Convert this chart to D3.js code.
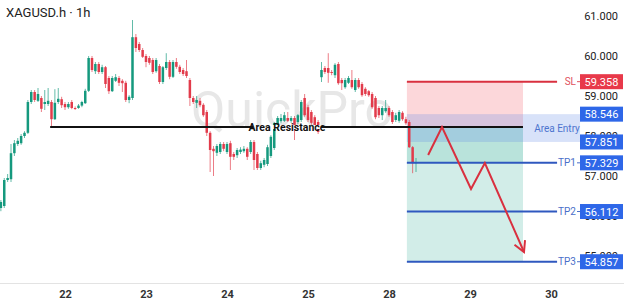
<!DOCTYPE html>
<html>
<head>
<meta charset="utf-8">
<script src="https://cdn.jsdelivr.net/npm/d3@7/dist/d3.min.js"></script>
<style>
  html,body{margin:0;padding:0;background:#fff;}
  svg{display:block;font-family:Roboto,"Noto Sans",Arial,sans-serif;}
</style>
</head>
<body>
<svg id="chart" width="624" height="305"></svg>
<script>
// ---------- DATA ----------
const title = "XAGUSD.h · 1h";
const firstHour = -19; // hours relative to start of day 22
const open  = [56.20,56.25,56.90,56.92,57.57,57.80,57.82,58.00,58.08,58.85,59.10,58.88,58.95,58.80,58.80,58.85,58.42,58.85,58.92,58.80,
               58.72,58.85,58.70,58.70,58.76,58.82,59.13,59.95,59.62,59.80,59.60,59.72,59.45,59.12,59.38,59.45,59.38,59.33,58.90,58.95,
               60.47,60.30,60.15,60.00,59.95,59.90,59.62,59.75,59.35,59.70,59.85,59.48,59.85,59.73,59.65,59.62,59.40,58.95,58.83,58.88,
               58.78,58.60,58.08,57.68,57.58,57.60,57.80,57.60,57.82,57.55,57.52,57.60,57.62,57.68,57.60,57.85,57.55,57.20,57.28,57.30,
               57.50,57.70,58.20,58.37,58.38,58.45,58.38,58.45,58.35,58.40,58.95,58.72,58.60,58.47,58.35,59.47,59.70,59.70,59.60,59.52,
               59.80,59.40,59.22,59.33,59.40,59.15,59.40,59.30,59.18,59.12,59.05,58.95,58.70,58.52,58.62,58.70,58.60,58.40,58.38,58.58,
               58.42,58.35,57.72,57.32];
const high  = [56.40,56.95,57.05,57.80,57.90,57.95,58.05,58.12,58.90,59.15,59.15,59.20,59.00,59.15,59.20,58.90,59.17,59.20,58.98,58.85,
               58.85,58.90,58.74,58.80,58.88,59.18,60.00,60.00,59.85,59.85,59.78,59.75,59.50,59.50,59.55,59.50,59.42,59.38,59.02,60.90,
               60.55,60.35,60.20,60.05,60.00,59.95,59.95,59.80,59.75,60.07,59.90,59.90,59.95,59.78,59.70,59.90,59.45,59.00,59.00,58.95,
               58.82,58.65,58.12,57.75,57.80,57.85,57.85,57.85,57.88,57.60,57.70,57.72,57.75,57.72,57.90,57.90,57.60,57.38,57.45,57.78,
               58.02,58.35,58.50,58.55,58.60,58.60,58.50,58.50,58.55,58.90,59.05,58.78,58.65,58.52,58.40,59.85,59.75,60.07,59.65,59.82,
               59.85,59.45,59.45,59.50,59.65,59.45,59.45,59.35,59.22,59.15,59.10,59.00,58.75,58.75,58.90,58.75,58.65,58.58,58.65,58.62,
               58.48,58.40,57.75,57.45];
const low   = [56.12,56.20,56.85,56.85,57.50,57.75,57.78,57.95,58.05,58.80,58.85,58.85,58.60,58.65,58.75,58.20,58.40,58.80,58.70,58.65,
               58.68,58.67,58.65,58.68,58.72,58.80,59.10,59.60,59.55,59.55,59.55,59.20,59.05,59.10,59.35,59.25,59.10,58.85,58.82,58.90,
               60.10,60.10,59.95,59.72,59.78,59.55,59.58,59.30,59.30,59.65,59.42,59.45,59.68,59.55,59.50,59.45,58.75,58.80,58.70,58.72,
               58.48,58.00,57.10,57.00,57.50,57.55,57.62,57.55,57.15,57.40,57.45,57.55,57.58,57.40,57.55,57.15,57.15,57.15,57.22,57.25,
               57.45,57.65,58.15,58.32,58.35,58.35,58.33,57.90,58.30,58.35,58.48,58.35,58.28,58.22,58.05,59.35,59.55,59.33,59.52,59.45,
               59.28,59.15,59.18,59.30,59.18,59.10,59.18,58.98,59.00,58.98,58.68,58.42,58.45,58.40,58.58,58.48,58.30,58.35,58.33,58.38,
               58.28,57.70,57.07,57.10];
const close = [56.35,56.90,56.95,57.57,57.82,57.88,58.00,58.08,58.85,59.10,58.90,59.05,58.68,58.85,58.88,58.42,58.83,58.93,58.77,58.72,
               58.80,58.70,58.68,58.76,58.85,59.13,59.95,59.65,59.80,59.60,59.72,59.30,59.12,59.45,59.47,59.33,59.32,58.90,58.98,60.47,
               60.20,60.15,59.98,59.85,59.83,59.60,59.90,59.35,59.72,59.85,59.48,59.85,59.73,59.60,59.55,59.50,58.95,58.85,58.90,58.77,
               58.52,58.08,57.65,57.62,57.75,57.80,57.68,57.80,57.48,57.48,57.65,57.66,57.68,57.48,57.85,57.40,57.20,57.32,57.40,57.72,
               57.98,58.32,58.45,58.45,58.52,58.38,58.45,58.22,58.52,58.85,58.52,58.40,58.33,58.27,58.10,59.65,59.60,59.58,59.58,59.78,
               59.32,59.32,59.40,59.45,59.22,59.40,59.22,59.02,59.05,59.02,58.72,58.47,58.52,58.70,58.70,58.52,58.35,58.52,58.60,58.42,
               58.32,57.72,57.32,57.35];

const dayLabels = ["22","23","24","25","28","29","30"];
const dayHours  = [0,24,48,72,96,120,144];
const priceTicks = [61,60,59,58,57,56,55];

const resistancePrice = 58.225;
const resistanceStartHour = -4.4;
const zoneStartHour = 101.3, zoneEndHour = 135.7, lineEndHour = 145.8, entryBandEndHour = 152.6;
const entryPrice = 58.22;
const entryZone = [58.546, 57.851];
const levelNames  = ["SL","TP1","TP2","TP3"];
const levelPrices = [59.358, 57.329, 56.112, 54.857];
const arrowHours  = [107.6, 111.7, 120.3, 124.4, 136.0];
const arrowPrices = [57.525, 58.225, 56.675, 57.325, 55.10];

// ---------- CHART ----------
const svg = d3.select("#chart");
const x = d3.scaleLinear().domain([0,24]).range([65,146]);
const y = d3.scaleLinear().domain([61,55]).range([16,256]);

const up = "#15997e", down = "#e23b4b";
const red = "#d9303f", blue = "#2f58bf", boxBlue = "#2e67e8";

svg.append("rect").attr("width",624).attr("height",305).attr("fill","#fff");

// watermark
svg.append("text").attr("x",292).attr("y",127).attr("text-anchor","middle")
  .attr("font-size",50).attr("fill","#e7e7e7").attr("font-family","Roboto, Arial, sans-serif")
  .text("QuickPro");

// zones
const zx0 = x(zoneStartHour), zx1 = x(zoneEndHour);
svg.append("rect").attr("x",zx0).attr("width",zx1-zx0)
  .attr("y",y(levelPrices[0])).attr("height",y(entryPrice)-y(levelPrices[0]))
  .attr("fill","rgba(242,54,69,0.2)");
svg.append("rect").attr("x",zx0).attr("width",zx1-zx0)
  .attr("y",y(entryPrice)).attr("height",y(levelPrices[3])-y(entryPrice))
  .attr("fill","rgba(8,153,129,0.18)");
svg.append("rect").attr("x",zx0).attr("width",zx1-zx0)
  .attr("y",y(entryPrice)).attr("height",y(levelPrices[1])-y(entryPrice))
  .attr("fill","rgba(8,153,129,0.12)");
svg.append("rect").attr("x",zx0).attr("width",x(entryBandEndHour)-zx0)
  .attr("y",y(entryZone[0])).attr("height",y(entryZone[1])-y(entryZone[0]))
  .attr("fill","rgba(100,140,230,0.25)");
svg.append("text").attr("x",557).attr("y",y((entryZone[0]+entryZone[1])/2)+3.5)
  .attr("text-anchor","middle").attr("font-size",10).attr("fill","#4d74cf").text("Area Entry");

// candles
const data = open.map((o,i)=>({h:firstHour+i,o,hi:high[i],lo:low[i],c:close[i]}));
const g = svg.append("g");
g.selectAll("line.wick").data(data).join("line")
  .attr("x1",d=>x(d.h)).attr("x2",d=>x(d.h))
  .attr("y1",d=>y(d.hi)).attr("y2",d=>y(d.lo))
  .attr("stroke",d=>d.c>=d.o?up:down).attr("stroke-width",0.9).attr("stroke-opacity",0.75);
g.selectAll("rect.body").data(data).join("rect")
  .attr("x",d=>x(d.h)-1.25).attr("width",2.5)
  .attr("y",d=>y(Math.max(d.o,d.c)))
  .attr("height",d=>Math.max(1,Math.abs(y(d.o)-y(d.c))))
  .attr("fill",d=>d.c>=d.o?up:down);

// area resistance
svg.append("line").attr("x1",x(resistanceStartHour)).attr("x2",zx1)
  .attr("y1",y(resistancePrice)).attr("y2",y(resistancePrice))
  .attr("stroke","#111").attr("stroke-width",2);
svg.append("rect").attr("x",253).attr("y",y(resistancePrice)-2).attr("width",68).attr("height",4).attr("fill","#fff");
svg.append("text").attr("x",287).attr("y",y(resistancePrice)+4).attr("text-anchor","middle")
  .attr("font-size",10.5).attr("font-weight",700).attr("fill","#111").text("Area Resistance");

// level lines
levelNames.forEach((n,i)=>{
  const col = i===0?red:blue;
  svg.append("line").attr("x1",zx0).attr("x2",x(lineEndHour))
    .attr("y1",y(levelPrices[i])).attr("y2",y(levelPrices[i]))
    .attr("stroke",col).attr("stroke-width",2);
});

// arrow
const pts = arrowHours.map((h,i)=>[x(h),y(arrowPrices[i])]);
svg.append("path").attr("d",d3.line()(pts)).attr("fill","none")
  .attr("stroke",red).attr("stroke-width",2).attr("stroke-linejoin","miter");
{
  const [ax,ay] = pts[pts.length-1], [bx,by] = pts[pts.length-2];
  const ang = Math.atan2(ay-by, ax-bx), L = 12, sp = 0.5;
  svg.append("path").attr("d",d3.line()([
      [ax-L*Math.cos(ang-sp), ay-L*Math.sin(ang-sp)],[ax,ay],
      [ax-L*Math.cos(ang+sp), ay-L*Math.sin(ang+sp)]]))
    .attr("fill","none").attr("stroke",red).attr("stroke-width",2);
}

// price axis
const yAxis = d3.axisRight(y).tickValues(priceTicks).tickFormat(d3.format(".3f")).tickSize(0);
const ag = svg.append("g").attr("transform","translate(618,0)").call(yAxis);
ag.select(".domain").remove();
ag.selectAll("text").attr("text-anchor","end").attr("x",0).attr("dy","0.35em")
  .attr("font-size",11).attr("fill","#222").attr("font-family","Roboto, Arial, sans-serif");

// level labels + boxes
function priceBox(p,col){
  svg.append("rect").attr("x",580).attr("y",y(p)-7.5).attr("width",43).attr("height",15).attr("fill",col);
  svg.append("text").attr("x",601.5).attr("y",y(p)+4).attr("text-anchor","middle")
    .attr("font-size",11).attr("fill","#fff").text(d3.format(".3f")(p));
}
levelNames.forEach((n,i)=>{
  svg.append("text").attr("x",576).attr("y",y(levelPrices[i])+3.5).attr("text-anchor","end")
    .attr("font-size",10).attr("fill",i===0?"#e0505c":"#4a6fc9").text(n);
  svg.append("line").attr("x1",577).attr("x2",580).attr("y1",y(levelPrices[i])).attr("y2",y(levelPrices[i]))
    .attr("stroke",i===0?"#e0505c":"#4a6fc9").attr("stroke-width",1);
  priceBox(levelPrices[i], i===0?"#e8394a":boxBlue);
});
entryZone.forEach(p=>priceBox(p,boxBlue));

// x axis
svg.append("line").attr("x1",0).attr("x2",624).attr("y1",283.5).attr("y2",283.5)
  .attr("stroke","#e3e3e3").attr("stroke-width",1);
const xAxis = d3.axisBottom(x).tickValues(dayHours).tickFormat((d,i)=>dayLabels[i]).tickSize(0);
const xg = svg.append("g").attr("transform","translate(0,284)").call(xAxis);
xg.select(".domain").remove();
xg.selectAll("text").attr("dy","0").attr("y",14).attr("font-size",11).attr("font-weight",700)
  .attr("fill","#333").attr("font-family","Roboto, Arial, sans-serif");

// title
svg.append("text").attr("x",6).attr("y",17).attr("font-size",13).attr("fill","#222").text(title);
</script>
</body>
</html>
